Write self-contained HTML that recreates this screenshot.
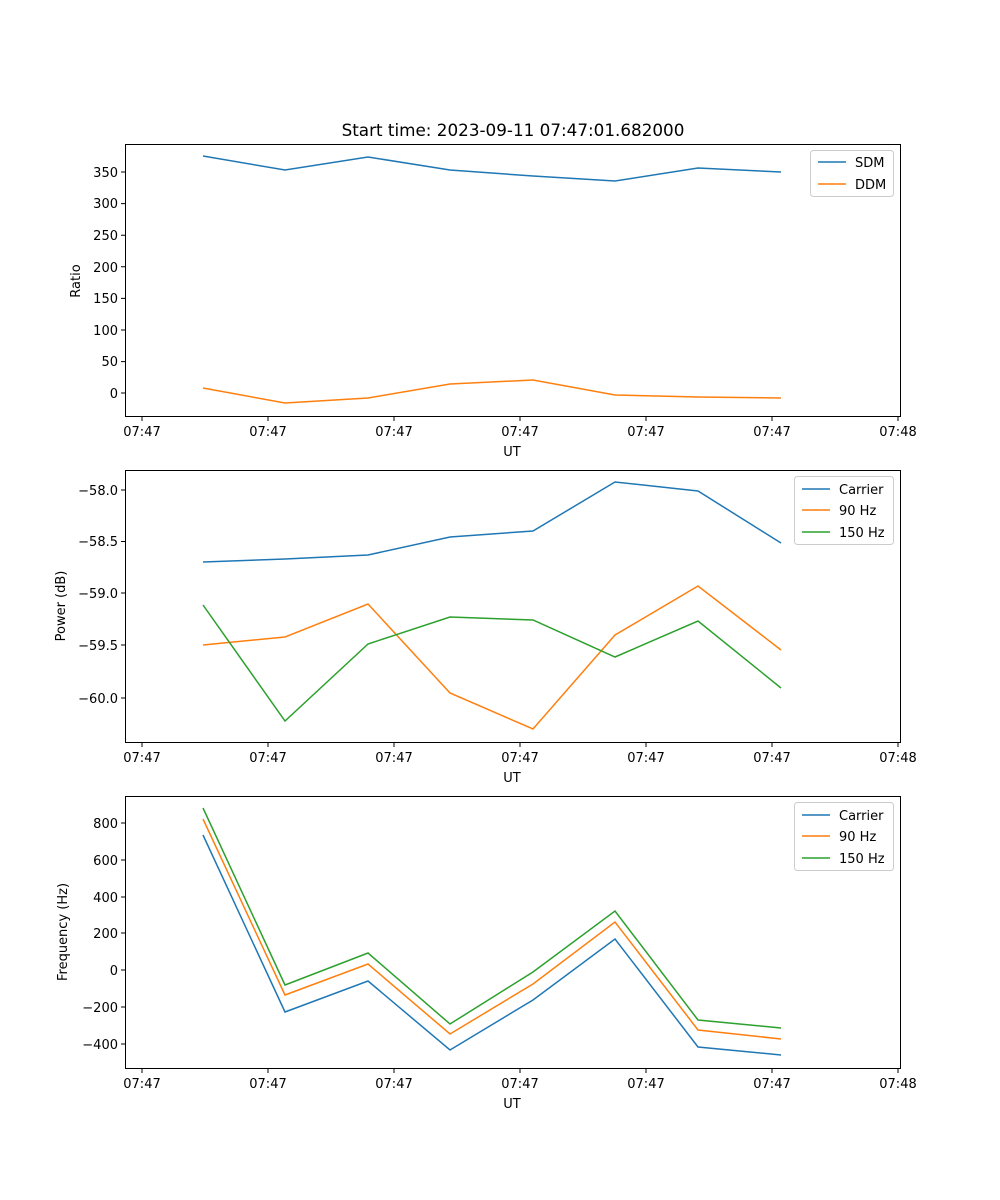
<!DOCTYPE html>
<html><head><style>body{margin:0;background:#fff}svg{display:block}text{font-family:"DejaVu Sans","Liberation Sans",sans-serif;font-size:13px;fill:#000}</style></head>
<body>
<svg width="1000" height="1200" xmlns="http://www.w3.org/2000/svg">
<rect width="1000" height="1200" fill="#fff"/>
<text x="513" y="136" text-anchor="middle" style="font-size:16.8px">Start time: 2023-09-11 07:47:01.682000</text>
<g fill="none" stroke="#000" stroke-width="1">
<rect x="125.5" y="144.5" width="775" height="272"/>
<rect x="125.5" y="470.5" width="775" height="272"/>
<rect x="125.5" y="796.5" width="775" height="272"/>
</g>
<g stroke="#000">
<path d="M142 417v4M268 417v4M394 417v4M520 417v4M646 417v4M772 417v4M898 417v4"/>
<path d="M142 743v4M268 743v4M394 743v4M520 743v4M646 743v4M772 743v4M898 743v4"/>
<path d="M142 1069v4M268 1069v4M394 1069v4M520 1069v4M646 1069v4M772 1069v4M898 1069v4"/>
</g>
<g text-anchor="middle">
<text x="142" y="436">07:47</text><text x="268" y="436">07:47</text><text x="394" y="436">07:47</text><text x="520" y="436">07:47</text><text x="646" y="436">07:47</text><text x="772" y="436">07:47</text><text x="898" y="436">07:48</text>
<text x="512" y="456">UT</text>
<text x="142" y="762">07:47</text><text x="268" y="762">07:47</text><text x="394" y="762">07:47</text><text x="520" y="762">07:47</text><text x="646" y="762">07:47</text><text x="772" y="762">07:47</text><text x="898" y="762">07:48</text>
<text x="512" y="782">UT</text>
<text x="142" y="1088">07:47</text><text x="268" y="1088">07:47</text><text x="394" y="1088">07:47</text><text x="520" y="1088">07:47</text><text x="646" y="1088">07:47</text><text x="772" y="1088">07:47</text><text x="898" y="1088">07:48</text>
<text x="512" y="1108">UT</text>
</g>
<g stroke="#000">
<path d="M121 172h4M121 203.6h4M121 235.2h4M121 266.8h4M121 298.4h4M121 330h4M121 361.6h4M121 393h4"/>
<path d="M121 490h4M121 541.5h4M121 593h4M121 645h4M121 698h4"/>
<path d="M121 823h4M121 860h4M121 897h4M121 933h4M121 970h4M121 1007h4M121 1044h4"/>
</g>
<g text-anchor="end">
<text x="118" y="177">350</text><text x="118" y="208">300</text><text x="118" y="240">250</text><text x="118" y="272">200</text><text x="118" y="303">150</text><text x="118" y="335">100</text><text x="118" y="366">50</text><text x="118" y="398">0</text>
<text x="118" y="495">−58.0</text><text x="118" y="546">−58.5</text><text x="118" y="598">−59.0</text><text x="118" y="650">−59.5</text><text x="118" y="703">−60.0</text>
<text x="118" y="828">800</text><text x="118" y="865">600</text><text x="118" y="902">400</text><text x="118" y="938">200</text><text x="118" y="975">0</text><text x="118" y="1012">−200</text><text x="118" y="1049">−400</text>
</g>
<text transform="translate(80,281) rotate(-90)" text-anchor="middle">Ratio</text>
<text transform="translate(65,606) rotate(-90)" text-anchor="middle">Power (dB)</text>
<text transform="translate(67,932) rotate(-90)" text-anchor="middle">Frequency (Hz)</text>
<g fill="none" stroke-width="1.5">
<polyline stroke="#1f77b4" points="203,156 285,170 368,157 450,170 533,176 615,181 698,168 781,172"/>
<polyline stroke="#ff7f0e" points="203,388 285,403 368,398 450,384 533,380 615,395 698,397 781,398"/>
<polyline stroke="#1f77b4" points="203,562 285,559 368,555 450,537 533,531 615,482 698,491 781,543"/>
<polyline stroke="#ff7f0e" points="203,645 285,637 368,604 450,693 533,729 615,635 698,586 781,650"/>
<polyline stroke="#2ca02c" points="203,605 285,721 368,644 450,617 533,620 615,657 698,621 781,688"/>
<polyline stroke="#1f77b4" points="203,835 285,1012 368,981 450,1050 533,1000 615,939 698,1047 781,1055"/>
<polyline stroke="#ff7f0e" points="203,819 285,995 368,964 450,1034 533,984 615,922 698,1030 781,1039"/>
<polyline stroke="#2ca02c" points="203,808 285,985 368,953 450,1024 533,972 615,911 698,1020 781,1028"/>
</g>
<g stroke="#ccc" fill="#fff"><rect x="810.5" y="150.5" width="83" height="46" rx="3"/><rect x="794.5" y="476.5" width="99" height="68" rx="3"/><rect x="794.5" y="802.5" width="99" height="68" rx="3"/></g>
<g stroke-width="1.5">
<path d="M818 162h28" stroke="#1f77b4"/><path d="M818 184h28" stroke="#ff7f0e"/>
<path d="M802 489h28" stroke="#1f77b4"/><path d="M802 510h28" stroke="#ff7f0e"/><path d="M802 532h28" stroke="#2ca02c"/>
<path d="M802 815h28" stroke="#1f77b4"/><path d="M802 836h28" stroke="#ff7f0e"/><path d="M802 858h28" stroke="#2ca02c"/>
</g>
<text x="855" y="167">SDM</text><text x="855" y="189">DDM</text>
<text x="839" y="494">Carrier</text><text x="839" y="515">90 Hz</text><text x="839" y="537">150 Hz</text>
<text x="839" y="820">Carrier</text><text x="839" y="841">90 Hz</text><text x="839" y="863">150 Hz</text>
</svg>
</body></html>
